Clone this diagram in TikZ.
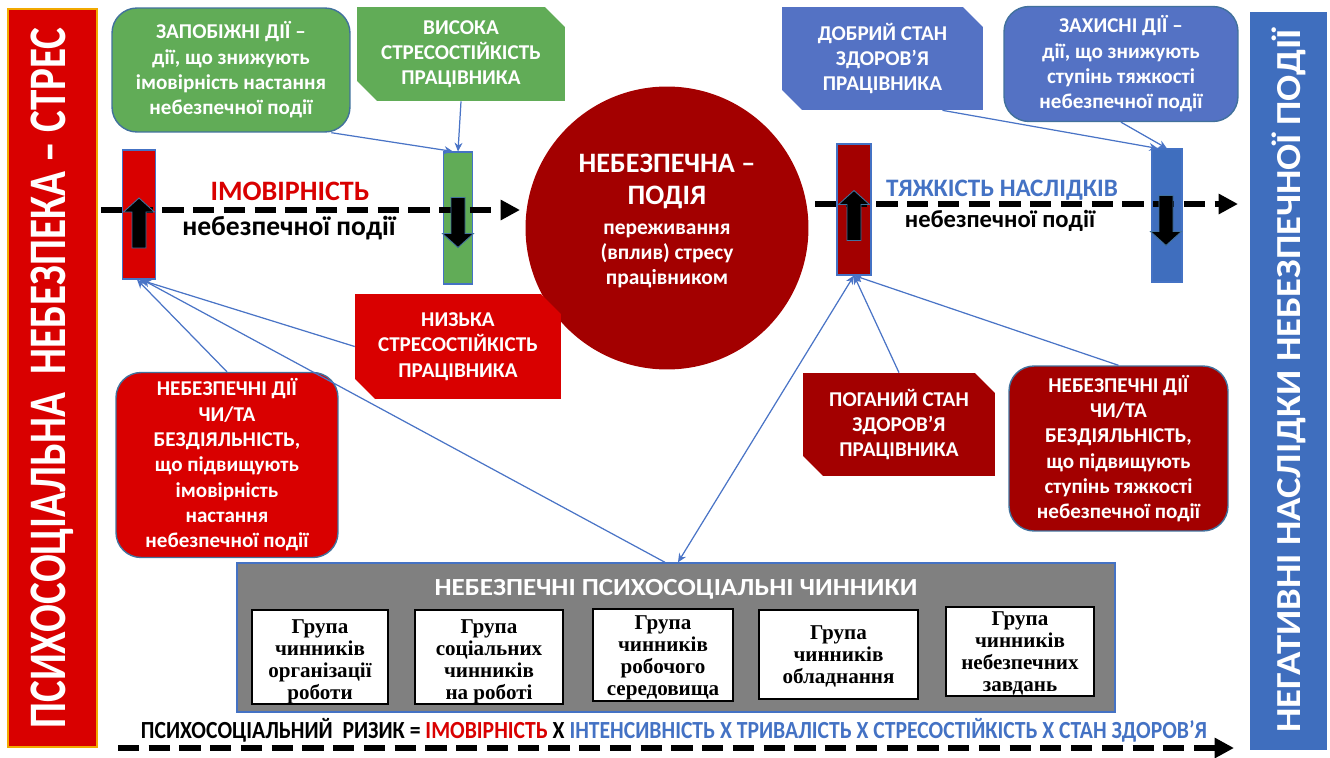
\documentclass[tikz,border=0pt]{standalone}
\usepackage{fontspec}
\setmainfont{Carlito}
\newfontfamily\narrowfont[FakeStretch=0.88]{Carlito}
\newfontfamily\leftfont[FakeStretch=0.78]{Carlito}
\newfontfamily\widefont[FakeStretch=1.1]{Carlito}
\newfontfamily\grpfont{Liberation Serif}
\usetikzlibrary{shapes.misc,arrows.meta}
\definecolor{hotred}{HTML}{D90000}
\definecolor{darkred}{HTML}{A30000}
\definecolor{grn}{HTML}{61AC57}
\definecolor{boxblue}{HTML}{5472C4}
\definecolor{barblue}{HTML}{3F6EBE}
\definecolor{txtblue}{HTML}{4472C4}
\definecolor{edgeblue}{HTML}{41719C}
\definecolor{linkblue}{HTML}{4A74C6}
\definecolor{panelgrey}{HTML}{808080}
\definecolor{edgeorange}{HTML}{F2A900}
\tikzset{
  box/.style={text=white, font=\bfseries\fontsize{12}{14.4}\selectfont, align=center, inner sep=0pt},
  roundbox/.style={box, rounded corners=0.5cm, draw=edgeblue, line width=0.8pt},
  snipbox/.style={box, chamfered rectangle, chamfered rectangle corners={north east, south west}, chamfered rectangle sep=0.2cm},
  sidebar/.style={rotate=90, text=white, inner sep=0pt},
  bar/.style={draw=txtblue, line width=0.6pt, inner sep=0pt},
  blkup/.pic={\filldraw[fill=black, draw=edgeblue, line width=0.5pt] (0,-25) -- (15.5,-11) -- (7,-11) -- (7,25) -- (-7,25) -- (-7,-11) -- (-15.5,-11) -- cycle;},
  grpbox/.style={fill=white, draw=black, line width=0.8pt, inner sep=0pt},
  grptext/.style={align=center, inner sep=0pt, font=\grpfont\bfseries\fontsize{12}{12.6}\selectfont},
  link/.style={draw=linkblue, line width=0.7pt, >={Stealth[length=5pt,width=4.5pt]}},
  flow/.style={line width=3.4pt, dash pattern=on 12pt off 5.5pt, -{Triangle[length=11pt,width=11pt]}}
}
\begin{document}
\begin{tikzpicture}[x=0.02cm,y=-0.02cm]
\useasboundingbox (0,0) rectangle (1330,758);

\node[sidebar, fill=hotred, draw=edgeorange, line width=0.8pt, minimum width=14.76cm, minimum height=1.78cm, font=\leftfont\bfseries\fontsize{30}{32}\selectfont] (leftbar) at (52.5,378) {ПСИХОСОЦІАЛЬНА\ \ НЕБЕЗПЕКА – СТРЕС};
\node[sidebar, fill=barblue, minimum width=14.76cm, minimum height=1.54cm, font=\widefont\bfseries\fontsize{20}{22}\selectfont] (rightbar) at (1288.5,381) {НЕГАТИВНІ НАСЛІДКИ НЕБЕЗПЕЧНОЇ ПОДІЇ};

\node[roundbox, fill=grn, minimum width=4.76cm, minimum height=2.48cm] (zapob) at (231,70) {ЗАПОБІЖНІ ДІЇ –\\дії, що знижують\\імовірність настання\\небезпечної події};
\node[snipbox, fill=grn, minimum width=4.16cm, minimum height=1.88cm] (vysoka) at (461,54) {ВИСОКА\\СТРЕСОСТІЙКІСТЬ\\ПРАЦІВНИКА};
\node[snipbox, fill=boxblue, minimum width=4.02cm, minimum height=2.06cm] (dobryi) at (882.5,58.5) {ДОБРИЙ СТАН\\ЗДОРОВ’Я\\ПРАЦІВНИКА};
\node[roundbox, fill=boxblue, minimum width=4.68cm, minimum height=2.3cm] (zakhyst) at (1121,64) {ЗАХИСНІ ДІЇ –\\дії, що знижують\\ступінь тяжкості\\небезпечної події};

\node[circle, fill=darkred, minimum size=5.66cm, inner sep=0pt] (podia) at (667,228) {};
\node[text=white, align=center, font=\bfseries\fontsize{12.2}{14.2}\selectfont] (podiatext) at (667,221) {\fontsize{16}{18}\selectfont НЕБЕЗПЕЧНА –\\[4pt]\fontsize{16}{18}\selectfont ПОДІЯ\\[2.8pt]переживання\\(вплив) стресу\\працівником};

\node[bar, fill=hotred, minimum width=0.66cm, minimum height=2.58cm] (rectL) at (139,214.5) {};
\node[bar, fill=grn, minimum width=0.58cm, minimum height=2.64cm] (rectG) at (458,218) {};
\node[bar, fill=darkred, minimum width=0.68cm, minimum height=2.62cm] (rectM) at (854,209.5) {};
\node[bar, fill=barblue, minimum width=0.6cm, minimum height=2.66cm] (rectB) at (1167,215.5) {};

\coordinate (probS) at (101,210);
\coordinate (probE) at (520,210);
\coordinate (sevS) at (815,204);
\coordinate (sevE) at (1238,204);
\draw[flow] (probS) -- (probE);
\draw[flow] (sevS) -- (sevE);

\pic (upL) at (139,223) {blkup};
\pic[rotate=180] (downG) at (458,222.5) {blkup};
\pic (upM) at (854,215.5) {blkup};
\pic[rotate=180] (downB) at (1166,220.5) {blkup};

\node[text=hotred, font=\bfseries\fontsize{16}{18}\selectfont] (imov) at (290,191) {ІМОВІРНІСТЬ};
\node[font=\bfseries\fontsize{15.7}{18}\selectfont] (imovsub) at (289,228) {небезпечної події};
\node[text=txtblue, font=\bfseries\fontsize{14.3}{16}\selectfont] (tyazh) at (1002,190) {ТЯЖКІСТЬ НАСЛІДКІВ};
\node[font=\bfseries\fontsize{14}{16}\selectfont] (tyazhsub) at (1000,221) {небезпечної події};

\node[snipbox, fill=hotred, minimum width=4.12cm, minimum height=2.1cm] (nyzka) at (458,346.5) {НИЗЬКА\\СТРЕСОСТІЙКІСТЬ\\ПРАЦІВНИКА};
\node[roundbox, fill=hotred, minimum width=4.44cm, minimum height=3.7cm] (diiL) at (227,465) {НЕБЕЗПЕЧНІ ДІЇ\\ЧИ/ТА\\БЕЗДІЯЛЬНІСТЬ,\\що підвищують\\імовірність\\настання\\небезпечної події};
\node[snipbox, fill=darkred, minimum width=3.84cm, minimum height=2.06cm] (pohanyi) at (899,424.5) {ПОГАНИЙ СТАН\\ЗДОРОВ’Я\\ПРАЦІВНИКА};
\node[roundbox, fill=darkred, minimum width=4.38cm, minimum height=3.3cm] (diiR) at (1118.5,448.5) {НЕБЕЗПЕЧНІ ДІЇ\\ЧИ/ТА\\БЕЗДІЯЛЬНІСТЬ,\\що підвищують\\ступінь тяжкості\\небезпечної події};

\node[fill=panelgrey, draw=txtblue, line width=0.8pt, minimum width=17.56cm, minimum height=2.98cm, inner sep=0pt] (panel) at (676,637.5) {};
\node[text=white, font=\widefont\bfseries\fontsize{14}{16}\selectfont] (paneltitle) at (676,589) {НЕБЕЗПЕЧНІ ПСИХОСОЦІАЛЬНІ ЧИННИКИ};
\node[grpbox, minimum width=2.72cm, minimum height=1.88cm] (grp1) at (320,657) {};
\node[grpbox, minimum width=2.96cm, minimum height=1.88cm] (grp2) at (489,657) {};
\node[grpbox, minimum width=2.8cm, minimum height=1.84cm] (grp3) at (663,655) {};
\node[grpbox, minimum width=3.18cm, minimum height=1.78cm] (grp4) at (838.5,654.5) {};
\node[grpbox, minimum width=2.96cm, minimum height=1.78cm] (grp5) at (1020,651.5) {};
\node[grptext] (grp1txt) at ([yshift=-0.1cm]grp1.center) {Група\\чинників\\організації\\роботи};
\node[grptext] (grp2txt) at ([yshift=-0.1cm]grp2.center) {Група\\соціальних\\чинників\\на роботі};
\node[grptext] (grp3txt) at ([yshift=-0.06cm]grp3.center) {Група\\чинників\\робочого\\середовища};
\node[grptext] (grp4txt) at ([yshift=-0.04cm]grp4.center) {Група\\чинників\\обладнання};
\node[grptext] (grp5txt) at ([yshift=-0.04cm]grp5.center) {Група\\чинників\\небезпечних\\завдань};

\draw[link, ->] (zapob.-32) -- ([xshift=-0.1cm]rectG.north);
\draw[link, ->] (vysoka.south) -- (rectG.north);
\draw[link, ->] ([xshift=1.2cm]dobryi.south) -- ([xshift=-0.18cm]rectB.north);
\draw[link, ->] (zakhyst.south) -- (rectB.north);
\draw[link, ->] (diiL.north) -- ([xshift=-0.04cm]rectL.south);
\draw[link, ->] (nyzka.west) -- (rectL.south);
\draw[link, ->] ([xshift=-0.22cm]panel.north) -- ([xshift=0.06cm]rectL.south);
\draw[link, <->] ([xshift=0.04cm]panel.north) -- (rectM.south);
\draw[link, ->] (pohanyi.north) -- (rectM.south);
\draw[link, ->] (diiR.north) -- (rectM.south);

\node[font=\narrowfont\bfseries\fontsize{14}{16}\selectfont] (formula) at (674,730) {ПСИХОСОЦІАЛЬНИЙ\ \ РИЗИК = \textcolor{hotred}{ІМОВІРНІСТЬ} Х \textcolor{txtblue}{ІНТЕНСИВНІСТЬ Х ТРИВАЛІСТЬ Х СТРЕСОСТІЙКІСТЬ Х СТАН ЗДОРОВ’Я}};
\coordinate (riskS) at (118,748);
\coordinate (riskE) at (1234,748);
\draw[flow] (riskS) -- (riskE);
\end{tikzpicture}
\end{document}
